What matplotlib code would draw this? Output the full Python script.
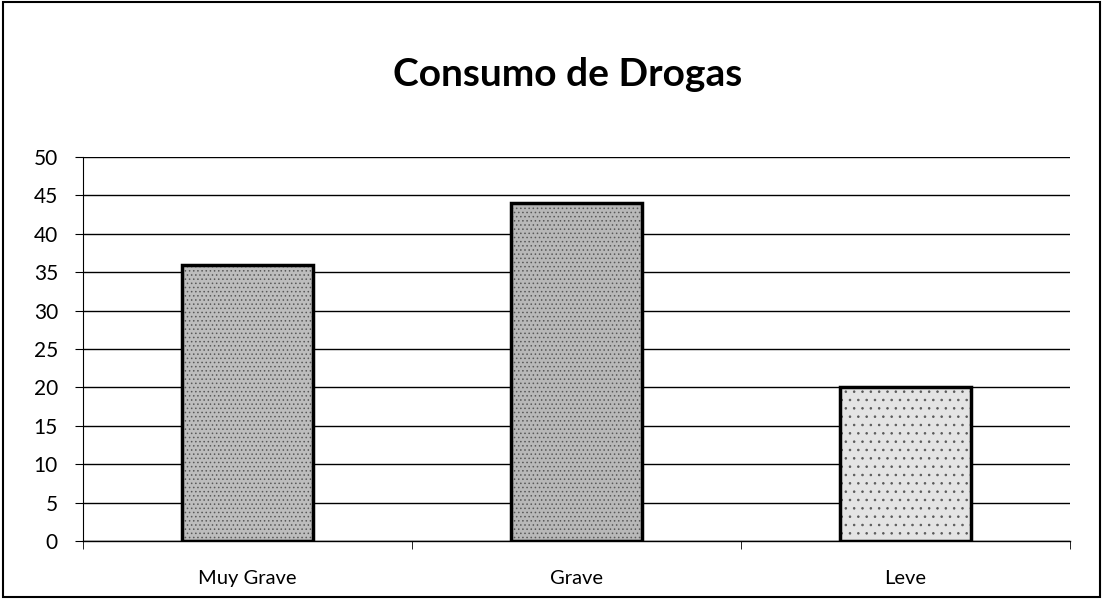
import matplotlib.pyplot as plt
from matplotlib.patches import Rectangle

categorias = ["Muy Grave", "Grave", "Leve"]
valores = [36, 44, 20]
colores = ["#bdbdbd", "#b8b8b8", "#e4e4e4"]
y_ticks = list(range(0, 55, 5))

plt.rcParams['font.family'] = ['Lato', 'DejaVu Sans']
plt.rcParams['hatch.linewidth'] = 0.6

fig = plt.figure(figsize=(11.03, 5.99), dpi=100)
ax = fig.add_axes([83 / 1103, 58 / 599, 987 / 1103, 384 / 599])

x = list(range(len(categorias)))
bars = ax.bar(x, valores, width=0.40, color=colores, edgecolor="black",
              linewidth=2.5, zorder=3)
for b, h in zip(bars, ["....", "....", ".."]):
    b.set_hatch(h)
    b._hatch_color = (0.35, 0.35, 0.35, 1)

ax.set_xlim(-0.5, 2.5)
ax.set_ylim(0, 50)
ax.set_yticks(y_ticks)
ax.yaxis.grid(True, color="black", linewidth=1.0, zorder=0)
ax.set_xticks(x)
ax.set_xticklabels(categorias, fontsize=14.5)
ax.tick_params(axis="x", length=0, pad=21)
ax.set_xticks([-0.5, 0.5, 1.5, 2.5], minor=True)
ax.tick_params(axis="x", which="minor", length=6, direction="out", color="black")
ax.tick_params(axis="y", labelsize=15, length=6, direction="out", pad=12)

for s in ["top", "right"]:
    ax.spines[s].set_visible(False)
ax.spines["left"].set_linewidth(0.8)
ax.spines["bottom"].set_linewidth(1.0)

fig.text(0.515, 0.875, "Consumo de Drogas", ha="center", va="center",
         fontsize=28, fontweight="bold")

fig.patches.append(Rectangle((0.003, 0.003), 0.994, 0.994, transform=fig.transFigure,
                             fill=False, edgecolor="black", linewidth=1.5))

fig.savefig("out.png", dpi=100)
